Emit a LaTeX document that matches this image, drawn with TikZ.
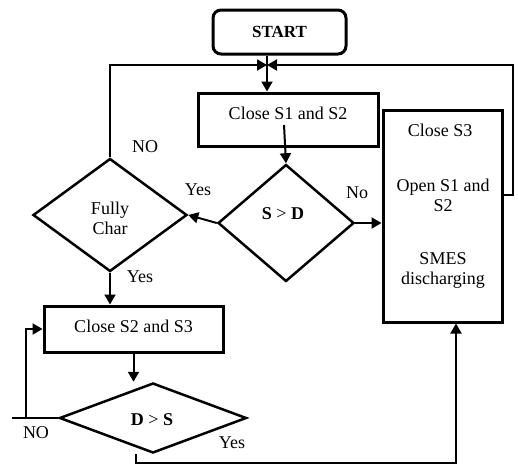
\documentclass[tikz,border=0pt]{standalone}
\usepackage{fontspec}
\setmainfont{Liberation Serif}
\usetikzlibrary{shapes.geometric,arrows.meta}
\begin{document}
\begin{tikzpicture}[x=1pt,y=-1pt,
  every node/.style={font=\fontsize{18}{20}\selectfont},
  box/.style={draw,line width=3pt,inner sep=0pt},
  dia/.style={draw,diamond,line width=2.5pt,inner sep=0pt},
  conn/.style={line width=2pt},
  arr/.style={conn,-{Triangle[length=10pt,width=11pt]}},
  txt/.style={inner sep=0pt,align=center}]
\useasboundingbox (0,0) rectangle (518,466);
% boxes
\node[box,rounded corners=8pt,minimum width=133pt,minimum height=44pt] (start) at (279.5,32) {};
\node[txt,font=\fontsize{17}{20}\selectfont\bfseries] (tstart) at (279.5,32) {START};
\node[box,minimum width=180pt,minimum height=53pt] (s12) at (288,119.5) {};
\node[txt] (ts12) at (288,113) {Close S1 and S2};
\node[box,minimum width=119pt,minimum height=212pt] (s3) at (442.5,216) {};
\node[txt] (ts3a) at (440,130) {Close S3};
\node[txt] (ts3b) at (443,195) {Open S1 and\\S2};
\node[txt] (ts3c) at (443,270) {SMES\\discharging};
\node[dia,minimum width=136pt,minimum height=117pt] (sd) at (286,223) {};
\node[txt] (tsd) at (283,214) {\textbf{S} > \textbf{D}};
\node[dia,minimum width=154pt,minimum height=113pt] (fc) at (110,215) {};
\node[txt] (tfc) at (110,218) {Fully\\Char};
\node[box,minimum width=179pt,minimum height=46pt] (s23) at (133.5,329) {};
\node[txt] (ts23) at (133.5,326) {Close S2 and S3};
\node[dia,minimum width=187pt,minimum height=70pt] (ds) at (153,418) {};
\node[txt] (tds) at (152,420) {\textbf{D} > \textbf{S}};
% labels
\node[txt] (lno1) at (145,147) {NO};
\node[txt] (lyes1) at (198,190) {Yes};
\node[txt] (lno2) at (357,193) {No};
\node[txt] (lyes2) at (140,277) {Yes};
\node[txt] (lno3) at (36,433) {NO};
\node[txt] (lyes3) at (232,443) {Yes};
% coordinates
\coordinate (m) at (267,65);
\coordinate (rr) at (513,195);
\coordinate (a1) at (284,125);
\coordinate (w) at (12,418);
\coordinate (j) at (26,418);
\coordinate (ys) at (136,454);
\coordinate (yc) at (456,463);
% connectors
\draw[arr] (m |- start.south) -- (m |- s12.north);
\draw[arr] (fc.north) |- (m);
\draw[arr] (s3.east |- rr) -- (rr) |- (m);
\draw[arr] (a1) -- (sd.north);
\draw[arr] (sd.west) -- (fc.east);
\draw[arr] (sd.east) -- (s3.west |- sd.east);
\draw[arr] (fc.south) -- (s23.north -| fc.south);
\draw[arr] (s23.south) -- (s23.south |- ds.north);
\draw[conn] (ds.west) -- (w);
\draw[arr] (j) |- (s23.west);
\draw[arr] (ys) |- (yc) -- (s3.south -| yc);
\end{tikzpicture}
\end{document}
